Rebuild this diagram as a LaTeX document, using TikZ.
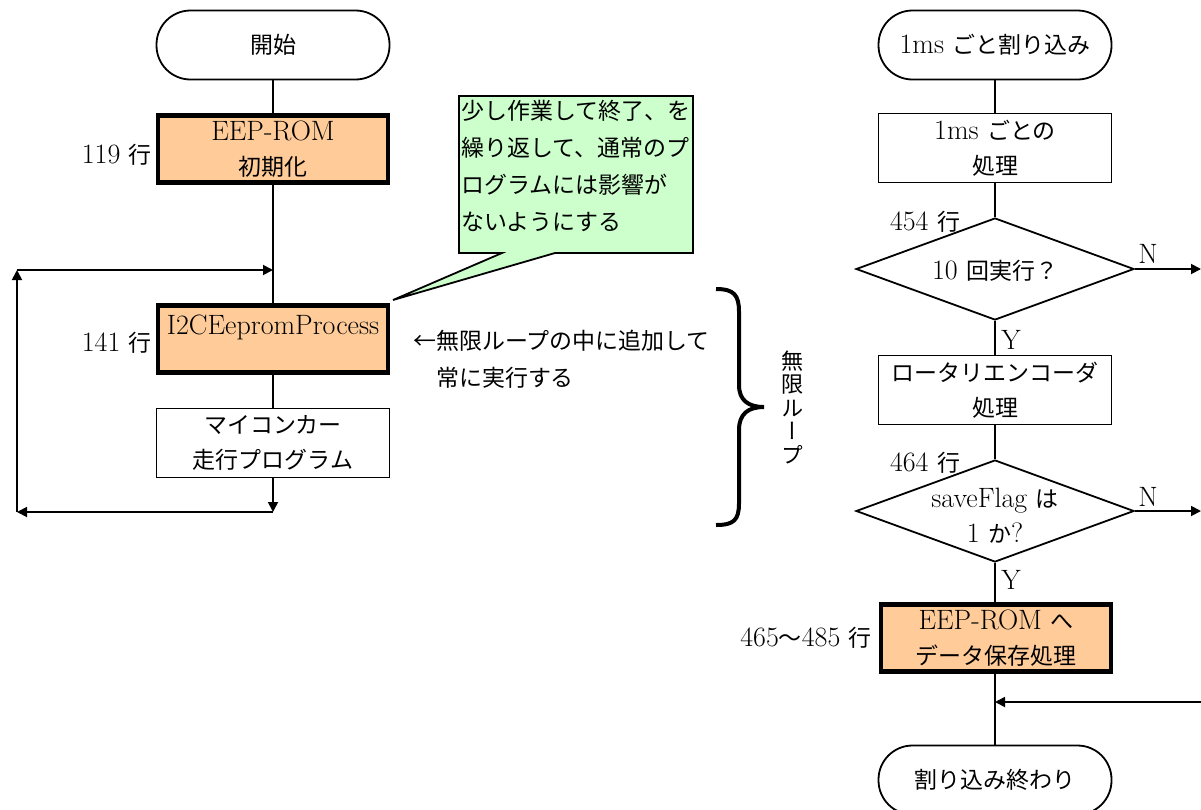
\documentclass[tikz,border=0pt]{standalone}
\usepackage{fontspec}
\newfontfamily\jp{Noto Sans CJK JP}[Scale=0.82]
\newfontfamily\jpv{Noto Sans CJK JP}[Scale=0.82,RawFeature=+vert]
\usetikzlibrary{arrows.meta,shapes.geometric}
\definecolor{orangefill}{HTML}{FFCC99}
\definecolor{greenfill}{HTML}{CCFFCC}
\begin{document}
\begin{tikzpicture}[x=1pt,y=-1pt,
  every node/.style={font=\fontsize{28}{35}\selectfont, inner sep=0pt},
  jpf/.style={font=\fontsize{28}{37}\selectfont\jp},
  term/.style={draw, line width=1.8pt, rounded corners=34pt, minimum width=233pt, minimum height=69pt},
  proc/.style={draw, line width=1.8pt, minimum width=233pt, minimum height=69pt, align=center},
  hot/.style={draw, line width=4.5pt, fill=orangefill, minimum width=230pt, minimum height=67pt, align=center},
  dec/.style={draw, diamond, line width=1.8pt, minimum width=278pt, minimum height=102pt},
  ln/.style={line width=1.8pt},
  arr/.style={line width=1.8pt, -{Triangle[length=10pt,width=10pt]}},
]
\useasboundingbox (0,0) rectangle (1201,809);
\fill[white] (0,0) rectangle (1201,809);

% ---------- left flow ----------
\node[term] (start) at (273,45) {{\jp 開始}};
\node[hot] (init) at (273,149) {EEP-ROM\\{\jp 初期化}};
\node[anchor=east] (l119) at (152,155) {119 {\jp 行}};
\node[hot] (i2c) at (273,339) {};
\node (i2ct) at (273,327) {I2CEepromProcess};
\node[anchor=east] (l141) at (152,343) {141 {\jp 行}};
\node[proc] (car) at (273,443) {{\jp マイコンカー}\\{\jp 走行プログラム}};

\draw[ln] (start) -- (init);
\draw[ln] (init) -- (i2c);
\draw[ln] (i2c) -- (car);

\coordinate (c1) at (273,512);
\coordinate (c2) at (17,512);
\coordinate (c3) at (17,270);
\coordinate (c4) at (273,270);
\draw[arr] (car.south) -- (c1);
\draw[arr] (c1) -- (c2);
\draw[arr] (c2) -- (c3);
\draw[arr] (c3) -- (c4);

% ---------- callout ----------
\draw[line width=1.8pt, fill=greenfill, line join=miter]
  (459,96) -- (693,96) -- (693,253) -- (555,253) -- (393,300) -- (502,253) -- (459,253) -- cycle;
\node[jpf, anchor=north west, align=left] (note) at (461,100)
  {少し作業して終了、を\\繰り返して、通常のプ\\ログラムには影響が\\ないようにする};

\node[jpf, anchor=west, align=left] (loopnote) at (413,359)
  {←無限ループの中に追加して\\　常に実行する};

% brace
\draw[line width=4pt]
  (716,289) .. controls (734,289) and (739,295) .. (739,312)
  -- (739,385) .. controls (739,400) and (748,407) .. (764,407)
  .. controls (748,407) and (739,414) .. (739,430)
  -- (739,503) .. controls (739,520) and (734,525) .. (716,525);
\node[font=\fontsize{27}{23.5}\selectfont\jpv, align=center] (vloop) at (793,407)
  {無\\限\\ル\\ー\\プ};

% ---------- right flow ----------
\node[term] (int) at (995,45) {1ms {\jp ごと割り込み}};
\node[proc] (p1) at (995,148) {1ms {\jp ごとの}\\{\jp 処理}};
\node[dec] (d1) at (995,269) {};
\node (d1t) at (995,271) {10 {\jp 回実行？}};
\node (l454) at (925,222) {454 {\jp 行}};
\node[proc] (p2) at (995,390) {{\jp ロータリエンコーダ}\\{\jp 処理}};
\node[dec] (d2) at (995,511) {};
\node[align=center] (d2t) at (995,516) {saveFlag {\jp は}\\1 {\jp か}?};
\node (l464) at (925,463) {464 {\jp 行}};
\node[hot] (save) at (996,638) {EEP-ROM {\jp へ}\\{\jp データ保存処理}};
\node[anchor=east] (l465) at (872,638) {465{\jp ～}485 {\jp 行}};
\node[term] (fin) at (995,780) {{\jp 割り込み終わり}};

\draw[ln] (int) -- (p1);
\draw[ln] (p1) -- (d1.north);
\draw[ln] (d1.south) -- (p2);
\draw[ln] (p2) -- (d2.north);
\draw[ln] (d2.south) -- (d2.south |- save.north);
\draw[ln] (fin.north |- save.south) -- (fin.north);

\coordinate (n1) at (1201,269);
\coordinate (n2) at (1201,511);
\draw[arr] (d1.east) -- (n1);
\draw[arr] (d2.east) -- (n2);
\node (N1) at (1148,254) {N};
\node (N2) at (1148,497) {N};
\node (Y1) at (1011,340) {Y};
\node (Y2) at (1011,580) {Y};

\coordinate (r) at (1201,702);
\draw[arr] (r) -- (fin.north |- r);
\end{tikzpicture}
\end{document}
